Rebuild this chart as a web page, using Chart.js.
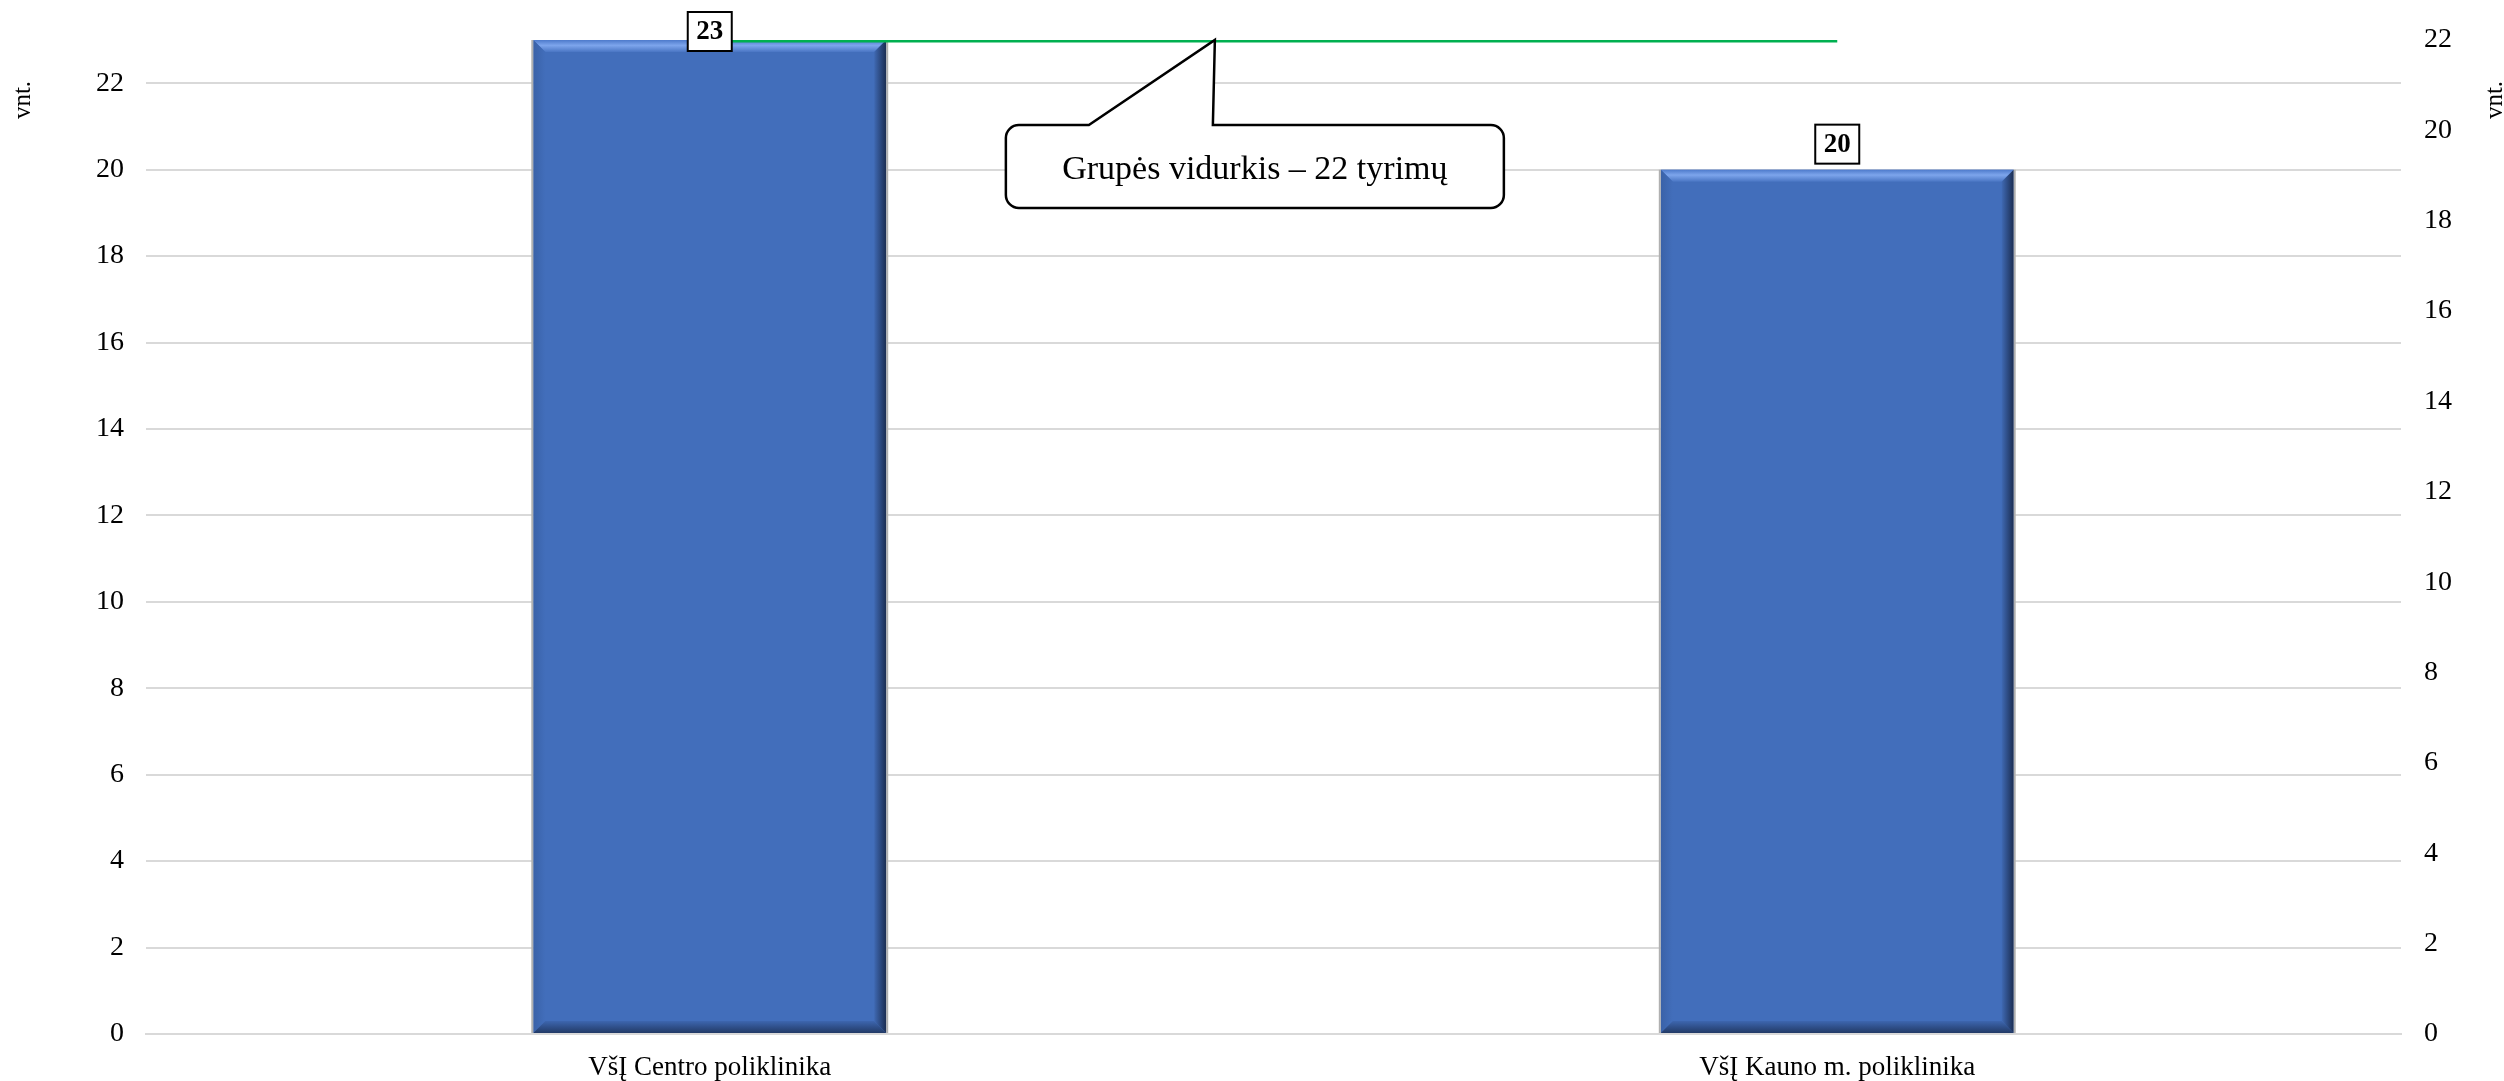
<!DOCTYPE html>
<html>
<head>
<meta charset="utf-8">
<script src="https://cdn.jsdelivr.net/npm/chart.js@4"></script>
<style>
  body { margin: 0; background: #fff; }
  #wrap { width: 2504px; height: 1081px; }
</style>
</head>
<body>
<div id="wrap"><canvas id="myChart" width="2504" height="1081"></canvas></div>
<script>
const categories = ['VšĮ Centro poliklinika', 'VšĮ Kauno m. poliklinika'];
const tyrimai = [23, 20];
const vidurkis = [22, 22];
const axisTitle = 'vnt.';
const calloutText = 'Grupės vidurkis – 22 tyrimų';

const serif = "'Liberation Serif', 'Times New Roman', serif";

// bevel look of the Excel bars
const bevelPlugin = {
  id: 'bevel',
  afterDatasetDraw(chart, args) {
    if (args.index !== 0) return;
    const ctx = chart.ctx;
    const b = 12;
    chart.getDatasetMeta(0).data.forEach((bar) => {
      const x0 = bar.x - bar.width / 2, x1 = bar.x + bar.width / 2;
      const y0 = bar.y, y1 = bar.base;
      ctx.save();
      // top
      let g = ctx.createLinearGradient(0, y0, 0, y0 + b);
      g.addColorStop(0, '#4d7acb'); g.addColorStop(0.45, '#7da5ec'); g.addColorStop(1, '#4a76c4');
      ctx.fillStyle = g;
      ctx.beginPath(); ctx.moveTo(x0, y0); ctx.lineTo(x1, y0); ctx.lineTo(x1 - b, y0 + b); ctx.lineTo(x0 + b, y0 + b); ctx.closePath(); ctx.fill();
      // left
      g = ctx.createLinearGradient(x0, 0, x0 + b, 0);
      g.addColorStop(0, '#3a62a8'); g.addColorStop(1, '#426ebb');
      ctx.fillStyle = g;
      ctx.beginPath(); ctx.moveTo(x0, y0); ctx.lineTo(x0 + b, y0 + b); ctx.lineTo(x0 + b, y1 - b); ctx.lineTo(x0, y1); ctx.closePath(); ctx.fill();
      // bottom
      g = ctx.createLinearGradient(0, y1 - b, 0, y1);
      g.addColorStop(0, '#3d66af'); g.addColorStop(1, '#223a66');
      ctx.fillStyle = g;
      ctx.beginPath(); ctx.moveTo(x0, y1); ctx.lineTo(x0 + b, y1 - b); ctx.lineTo(x1 - b, y1 - b); ctx.lineTo(x1, y1); ctx.closePath(); ctx.fill();
      // right
      g = ctx.createLinearGradient(x1 - b, 0, x1, 0);
      g.addColorStop(0, '#3f69b3'); g.addColorStop(1, '#1b2d52');
      ctx.fillStyle = g;
      ctx.beginPath(); ctx.moveTo(x1, y0); ctx.lineTo(x1, y1); ctx.lineTo(x1 - b, y1 - b); ctx.lineTo(x1 - b, y0 + b); ctx.closePath(); ctx.fill();
      // thin grey outline at the sides
      ctx.strokeStyle = '#b0b0b0'; ctx.lineWidth = 2;
      ctx.beginPath(); ctx.moveTo(x0 - 1, y0); ctx.lineTo(x0 - 1, y1); ctx.moveTo(x1 + 1, y0); ctx.lineTo(x1 + 1, y1); ctx.stroke();
      ctx.restore();
    });
  }
};

// boxed value labels + callout + rotated axis titles
const extrasPlugin = {
  id: 'extras',
  afterDraw(chart) {
    const ctx = chart.ctx;
    ctx.save();

    // value labels
    ctx.font = 'bold 27px ' + serif;
    ctx.textAlign = 'center';
    ctx.textBaseline = 'middle';
    chart.getDatasetMeta(0).data.forEach((bar, i) => {
      const w = 44, h = 39;
      let top = bar.y - 6 - h;
      if (top < 12) top = 12;
      ctx.fillStyle = '#fff';
      ctx.fillRect(bar.x - w / 2, top, w, h);
      ctx.strokeStyle = '#000'; ctx.lineWidth = 2;
      ctx.strokeRect(bar.x - w / 2, top, w, h);
      ctx.fillStyle = '#000';
      ctx.fillText(String(tyrimai[i]), bar.x, top + h / 2 + 1);
    });

    // callout pointing at the average line
    const tipX = chart.scales.x.getPixelForValue(0.448);
    const tipY = chart.scales.y1.getPixelForValue(vidurkis[0]);
    const bx0 = tipX - 209, bx1 = tipX + 289, by0 = tipY + 85, by1 = tipY + 168, r = 13;
    const p0 = tipX - 126, p1 = tipX - 2;
    ctx.beginPath();
    ctx.moveTo(bx0 + r, by0);
    ctx.lineTo(p0, by0);
    ctx.lineTo(tipX, tipY);
    ctx.lineTo(p1, by0);
    ctx.lineTo(bx1 - r, by0);
    ctx.arcTo(bx1, by0, bx1, by0 + r, r);
    ctx.lineTo(bx1, by1 - r);
    ctx.arcTo(bx1, by1, bx1 - r, by1, r);
    ctx.lineTo(bx0 + r, by1);
    ctx.arcTo(bx0, by1, bx0, by1 - r, r);
    ctx.lineTo(bx0, by0 + r);
    ctx.arcTo(bx0, by0, bx0 + r, by0, r);
    ctx.closePath();
    ctx.fillStyle = '#fff'; ctx.fill();
    ctx.strokeStyle = '#000'; ctx.lineWidth = 2.5; ctx.stroke();
    ctx.fillStyle = '#000';
    ctx.font = '34px ' + serif;
    ctx.fillText(calloutText, (bx0 + bx1) / 2, (by0 + by1) / 2 + 4);

    // axis titles, both read bottom to top
    ctx.font = '25px ' + serif;
    [[23, 100], [2495, 100]].forEach(([x, y]) => {
      ctx.save();
      ctx.translate(x, y);
      ctx.rotate(-Math.PI / 2);
      ctx.fillText(axisTitle, 0, 0);
      ctx.restore();
    });
    ctx.restore();
  }
};

const ctx = document.getElementById('myChart');
new Chart(ctx, {
  data: {
    labels: categories,
    datasets: [{
      type: 'bar',
      data: tyrimai,
      backgroundColor: '#426ebb',
      barPercentage: 0.313,
      categoryPercentage: 1,
      yAxisID: 'y',
      order: 2
    }, {
      type: 'line',
      data: vidurkis,
      borderColor: '#00b050',
      borderWidth: 5,
      pointRadius: 0,
      yAxisID: 'y1',
      order: 1
    }]
  },
  options: {
    responsive: false,
    animation: false,
    layout: { padding: { top: 40 } },
    plugins: { legend: { display: false }, tooltip: { enabled: false } },
    scales: {
      x: {
        grid: { display: false, drawTicks: false },
        border: { color: '#d9d9d9', width: 2 },
        ticks: { color: '#000', font: { family: serif, size: 27 }, padding: 18 },
        afterFit(s) { s.height = 47; }
      },
      y: {
        position: 'left',
        min: 0, max: 23,
        ticks: { stepSize: 2, color: '#000', font: { family: serif, size: 28 }, padding: 22 },
        afterBuildTicks(s) { s.ticks = s.ticks.filter(t => t.value % 2 === 0); },
        grid: { color: '#d9d9d9', lineWidth: 2, drawTicks: false },
        border: { display: false },
        afterFit(s) { s.width = 146; }
      },
      y1: {
        position: 'right',
        min: 0, max: 22,
        ticks: { stepSize: 2, color: '#000', font: { family: serif, size: 28 }, padding: 23 },
        grid: { display: false, drawTicks: false },
        border: { display: false },
        afterFit(s) { s.width = 103; }
      }
    }
  },
  plugins: [bevelPlugin, extrasPlugin]
});
</script>
</body>
</html>
